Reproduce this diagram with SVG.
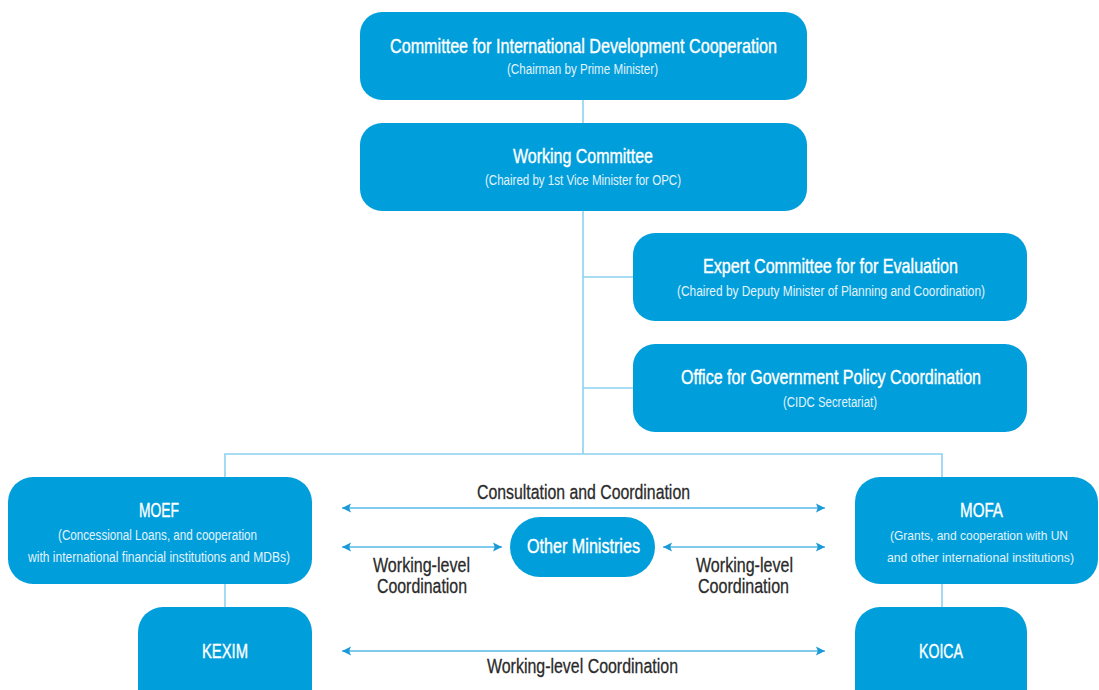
<svg xmlns="http://www.w3.org/2000/svg" width="1099" height="690" viewBox="0 0 1099 690">
<style>
.box{fill:#009edb;}
.t{font-family:"Liberation Sans Narrow","Liberation Sans",Arial,sans-serif;fill:#ffffff;text-anchor:middle;}
.h{font-size:21px;stroke:#ffffff;stroke-width:0.4;}
.s{font-size:15.5px;fill:#e2f3fb;}
.s2{font-size:13.6px;}
.m{font-size:20.5px;stroke:#ffffff;stroke-width:0.4;}
.lab{font-family:"Liberation Sans Narrow","Liberation Sans",Arial,sans-serif;font-size:20.5px;fill:#2a2a2a;stroke:#2a2a2a;stroke-width:0.3;text-anchor:middle;}
.conn{stroke:#8dd2f1;stroke-width:1.6;fill:none;}
.arr{stroke:#7fcbef;stroke-width:2.2;fill:none;marker-start:url(#ah);marker-end:url(#ah);}
</style>
<defs>
<marker id="ah" viewBox="0 0 10 10" refX="10" refY="5" markerWidth="9" markerHeight="10" markerUnits="userSpaceOnUse" orient="auto-start-reverse">
<path d="M0,0 L10,5 L0,10 L2,5 z" fill="#1b9ad7"/>
</marker>
</defs>
<rect width="1099" height="690" fill="#ffffff"/>
<g id="connectors">
<path class="conn" d="M583,100 V123"/>
<path class="conn" d="M583,211 V454"/>
<path class="conn" d="M583,277 H633"/>
<path class="conn" d="M583,388 H633"/>
<path class="conn" d="M225,477 V454 H942 V477"/>
<path class="conn" d="M225,584 V607"/>
<path class="conn" d="M942,584 V607"/>
<path class="arr" d="M342,508 H825"/>
<path class="arr" d="M342,547 H502"/>
<path class="arr" d="M663,547 H825"/>
<path class="arr" d="M342,651 H825"/>
</g>
<g id="cidc">
<rect class="box" x="360" y="12" width="447" height="88" rx="22"/>
<text class="t h" x="583.5" y="53" textLength="387" lengthAdjust="spacingAndGlyphs">Committee for International Development Cooperation</text>
<text class="t s" x="582.5" y="74" textLength="151" lengthAdjust="spacingAndGlyphs">(Chairman by Prime Minister)</text>
</g>
<g id="working">
<rect class="box" x="360" y="123" width="447" height="88" rx="22"/>
<text class="t h" x="583" y="163" textLength="140" lengthAdjust="spacingAndGlyphs">Working Committee</text>
<text class="t s" x="583" y="185" textLength="196" lengthAdjust="spacingAndGlyphs">(Chaired by 1st Vice Minister for OPC)</text>
</g>
<g id="expert">
<rect class="box" x="633" y="233" width="394" height="88" rx="22"/>
<text class="t h" x="830.5" y="273" textLength="255" lengthAdjust="spacingAndGlyphs">Expert Committee for for Evaluation</text>
<text class="t s" x="831" y="296" textLength="308" lengthAdjust="spacingAndGlyphs">(Chaired by Deputy Minister of Planning and Coordination)</text>
</g>
<g id="office">
<rect class="box" x="633" y="344" width="394" height="88" rx="22"/>
<text class="t h" x="831" y="384" textLength="300" lengthAdjust="spacingAndGlyphs">Office for Government Policy Coordination</text>
<text class="t s" x="830" y="407" textLength="94" lengthAdjust="spacingAndGlyphs">(CIDC Secretariat)</text>
</g>
<g id="moef">
<rect class="box" x="8" y="477" width="304" height="107" rx="25"/>
<text class="t m" x="159" y="517" textLength="40" lengthAdjust="spacingAndGlyphs">MOEF</text>
<text class="t s" x="157.5" y="540" textLength="199" lengthAdjust="spacingAndGlyphs">(Concessional Loans, and cooperation</text>
<text class="t s" x="159" y="562" textLength="262" lengthAdjust="spacingAndGlyphs">with international financial institutions and MDBs)</text>
</g>
<g id="kexim">
<rect class="box" x="138" y="607" width="174" height="110" rx="25"/>
<text class="t m" x="225" y="658" textLength="46" lengthAdjust="spacingAndGlyphs">KEXIM</text>
</g>
<g id="other">
<rect class="box" x="510" y="517" width="145" height="60" rx="30"/>
<text class="t m" x="583.5" y="553" textLength="113" lengthAdjust="spacingAndGlyphs">Other Ministries</text>
</g>
<g id="mofa">
<rect class="box" x="855" y="477" width="243" height="107" rx="25"/>
<text class="t m" x="981.5" y="517" textLength="43" lengthAdjust="spacingAndGlyphs">MOFA</text>
<text class="t s s2" x="979" y="540" textLength="178" lengthAdjust="spacingAndGlyphs">(Grants, and cooperation with UN</text>
<text class="t s s2" x="980.5" y="562" textLength="187" lengthAdjust="spacingAndGlyphs">and other international institutions)</text>
</g>
<g id="koica">
<rect class="box" x="855" y="607" width="172" height="110" rx="25"/>
<text class="t m" x="941" y="658" textLength="44" lengthAdjust="spacingAndGlyphs">KOICA</text>
</g>
<g id="labels">
<text class="lab" x="583.5" y="499" textLength="213" lengthAdjust="spacingAndGlyphs">Consultation and Coordination</text>
<text class="lab" x="421.5" y="572" textLength="97" lengthAdjust="spacingAndGlyphs">Working-level</text>
<text class="lab" x="422" y="593" textLength="90" lengthAdjust="spacingAndGlyphs">Coordination</text>
<text class="lab" x="744.5" y="572" textLength="97" lengthAdjust="spacingAndGlyphs">Working-level</text>
<text class="lab" x="743.5" y="593" textLength="91" lengthAdjust="spacingAndGlyphs">Coordination</text>
<text class="lab" x="582.5" y="673" textLength="191" lengthAdjust="spacingAndGlyphs">Working-level Coordination</text>
</g>
</svg>
